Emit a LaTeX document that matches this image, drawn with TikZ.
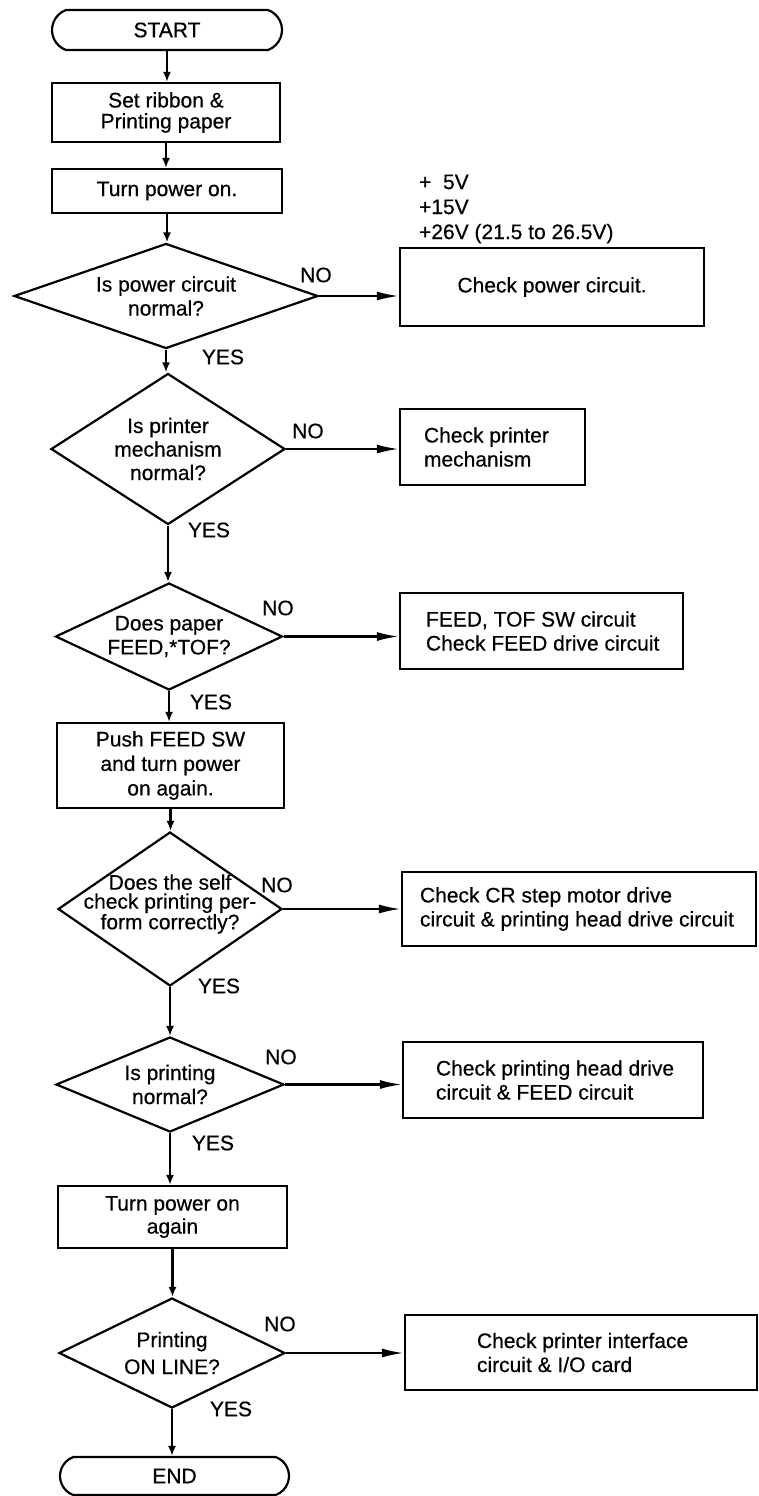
\documentclass[tikz,border=0pt]{standalone}
\usepackage{fontspec}
\setmainfont{Liberation Sans}[FakeBold=0.5]
\usetikzlibrary{shapes.geometric,shapes.misc,arrows.meta}
\begin{document}
\begin{tikzpicture}[x=1pt,y=-1pt,
  line width=2.2pt,
  every node/.style={font=\fontsize{21}{24}\selectfont},
  terminal/.style={draw, rounded rectangle, rounded rectangle arc length=140,
    minimum width=230pt, minimum height=40pt, inner sep=0pt},
  proc/.style={draw, rectangle, inner sep=0pt, align=center},
  decision/.style={draw, diamond, inner sep=0pt},
  intext/.style={align=center, inner sep=0pt},
  lefttext/.style={align=left, inner sep=0pt, anchor=west},
  tag/.style={inner sep=0pt},
  flow/.style={-{Latex[length=10pt,width=8pt]}},
  branch/.style={-{Latex[length=22pt,width=9pt]}},
]
\useasboundingbox (0,0) rectangle (758,1496);
\fill[white] (0,0) rectangle (758,1496);

% main column
\node[terminal] (start) at (167,30) {START};
\node[proc, minimum width=228pt, minimum height=59pt,
  font=\fontsize{21}{21}\selectfont] (ribbon) at (166,112.5) {Set ribbon \&\\Printing paper};
\node[proc, minimum width=230pt, minimum height=44pt] (poweron) at (167,191) {Turn power on.};

\node[tag, align=left, anchor=west, font=\fontsize{21}{25}\selectfont] (volts) at (418,209)
  {+\hphantom{1}5V\\+15V\\+26V (21.5 to 26.5V)};

\node[decision, minimum width=304pt, minimum height=105pt,
  label={[intext]center:{Is power circuit\\normal?}}] (q1) at (166,296) {};
\node[proc, minimum width=304pt, minimum height=78pt] (fixpower) at (552,287) {Check power circuit.};

\node[decision, minimum width=234pt, minimum height=151pt,
  label={[intext, font=\fontsize{21}{23.5}\selectfont]center:{Is printer\\mechanism\\normal?}}] (q2) at (168,449) {};
\node[proc, minimum width=185pt, minimum height=76pt,
  label={[lefttext, xshift=24pt]west:{Check printer\\mechanism}}] (fixmech) at (492.5,447) {};

\node[decision, minimum width=227pt, minimum height=107pt,
  label={[intext]center:{Does paper\\FEED,*TOF?}}] (q3) at (169,636.5) {};
\node[proc, minimum width=283pt, minimum height=76pt,
  label={[lefttext, xshift=26pt]west:{FEED, TOF SW circuit\\Check FEED drive circuit}}] (fixfeed) at (541.5,631) {};

\node[proc, minimum width=227pt, minimum height=85pt,
  font=\fontsize{21}{24.5}\selectfont] (push) at (170.5,765.5) {Push FEED SW\\and turn power\\on again.};

\node[decision, minimum width=224pt, minimum height=154pt,
  label={[intext, yshift=5pt, font=\fontsize{21}{19}\selectfont]center:{Does the self\\check printing per-\\form correctly?}}] (q4) at (170,909) {};
\node[proc, minimum width=354pt, minimum height=74pt,
  label={[lefttext, xshift=18pt]west:{Check CR step motor drive\\circuit \& printing head drive circuit}}] (fixcr) at (579,909) {};

\node[decision, minimum width=228pt, minimum height=95pt,
  label={[intext]center:{Is printing\\normal?}}] (q5) at (170,1084.5) {};
\node[proc, minimum width=300pt, minimum height=76pt,
  label={[lefttext, xshift=33pt]west:{Check printing head drive\\circuit \& FEED circuit}}] (fixhead) at (553,1080) {};

\node[proc, minimum width=229pt, minimum height=62pt,
  font=\fontsize{21}{23}\selectfont] (again) at (172.5,1217) {Turn power on\\again};

\node[decision, minimum width=226pt, minimum height=110pt,
  label={[intext, font=\fontsize{21}{27}\selectfont]center:{Printing\\ON LINE?}}] (q6) at (172,1353) {};
\node[proc, minimum width=352pt, minimum height=75pt,
  label={[lefttext, xshift=72pt]west:{Check printer interface\\circuit \& I/O card}}] (fixif) at (581,1352.5) {};

\node[terminal, minimum width=229pt, minimum height=38pt] (finish) at (174.5,1476) {END};

% branch labels
\node[tag] (no1) at (316,275) {NO};
\node[tag] (yes1) at (223,357) {YES};
\node[tag] (no2) at (308,431) {NO};
\node[tag] (yes2) at (209,530) {YES};
\node[tag] (no3) at (278,608) {NO};
\node[tag] (yes3) at (211,702) {YES};
\node[tag] (no4) at (277,885) {NO};
\node[tag] (yes4) at (219,986) {YES};
\node[tag] (no5) at (281,1057) {NO};
\node[tag] (yes5) at (213,1143) {YES};
\node[tag] (no6) at (280,1324) {NO};
\node[tag] (yes6) at (231,1409) {YES};

% main flow
\draw[flow] (start.south) -- (start.south |- ribbon.north);
\draw[flow] (ribbon.south) -- (ribbon.south |- poweron.north);
\draw[flow] (poweron.south) -- (poweron.south |- q1.north);
\draw[flow] (q1.south) -- (q1.south |- q2.north);
\draw[flow] (q2.south) -- (q2.south |- q3.north);
\draw[flow] (q3.south) -- (q3.south |- push.north);
\draw[flow] (push.south) -- (push.south |- q4.north);
\draw[flow] (q4.south) -- (q4.south |- q5.north);
\draw[flow] (q5.south) -- (q5.south |- again.north);
\draw[flow] (again.south) -- (again.south |- q6.north);
\draw[flow] (q6.south) -- (q6.south |- finish.north);

% failure branches
\draw[branch] (q1.east) -- (q1.east -| fixpower.west);
\draw[branch] (q2.east) -- (q2.east -| fixmech.west);
\draw[branch] (q3.east) -- (q3.east -| fixfeed.west);
\draw[branch] (q4.east) -- (q4.east -| fixcr.west);
\draw[branch] (q5.east) -- (q5.east -| fixhead.west);
\draw[branch] (q6.east) -- (q6.east -| fixif.west);
\end{tikzpicture}
\end{document}
